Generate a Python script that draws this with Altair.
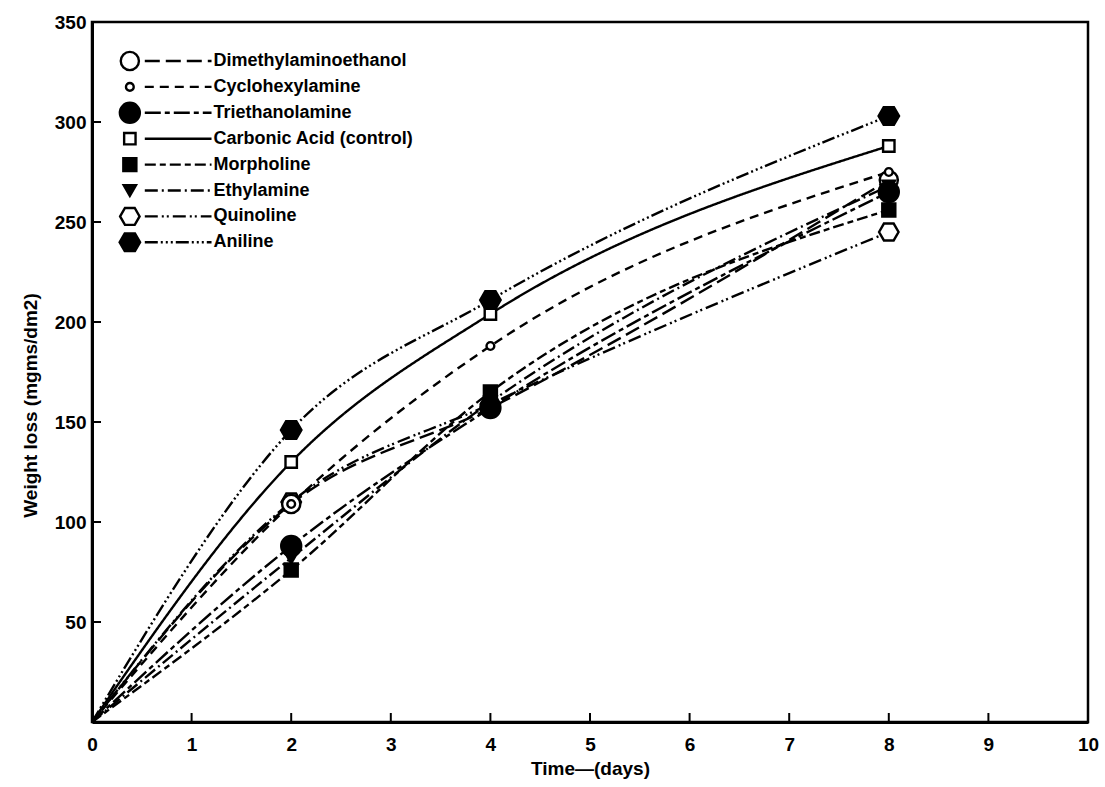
import altair as alt
import pandas as pd

# Sampling days and weight loss (mgms/dm2) per inhibitor
days = [0, 2, 4, 8]
series_names = [
    "Dimethylaminoethanol",
    "Cyclohexylamine",
    "Triethanolamine",
    "Carbonic Acid (control)",
    "Morpholine",
    "Ethylamine",
    "Quinoline",
    "Aniline",
]
dimethylaminoethanol = [0, 109, 157, 271]
cyclohexylamine = [0, 109, 188, 275]
triethanolamine = [0, 88, 157, 265]
carbonic_acid = [0, 130, 204, 288]
morpholine = [0, 76, 165, 256]
ethylamine = [0, 82, 160, 268]
quinoline = [0, 110, 159, 245]
aniline = [0, 146, 211, 303]

x_ticks = [0, 1, 2, 3, 4, 5, 6, 7, 8, 9, 10]
y_ticks = [50, 100, 150, 200, 250, 300, 350]

HEX = "M-1,0L-0.5,-0.866L0.5,-0.866L1,0L0.5,0.866L-0.5,0.866Z"
shapes = ["circle", "circle", "circle", "square", "square", "triangle-down", HEX, HEX]
fills = ["white", "white", "black", "white", "black", "black", "white", "black"]
sizes = [330, 60, 400, 130, 170, 150, 380, 420]
dashes = [[15, 6], [9, 6], [16, 4, 5, 4], [1, 0], [11, 4, 6, 4], [13, 4, 2, 4],
          [13, 4, 2, 3, 2, 4], [13, 3, 2, 3, 2, 3, 2, 3]]

values = [dimethylaminoethanol, cyclohexylamine, triethanolamine, carbonic_acid,
          morpholine, ethylamine, quinoline, aniline]
rows = []
for name, vals, fill, size in zip(series_names, values, fills, sizes):
    # open markers: larger ones first; solid markers on top of everything
    z = 10000 if fill == "black" else -size
    for d, v in zip(days, vals):
        rows.append({"name": name, "day": d, "loss": v, "z": z})
df = pd.DataFrame(rows)
legend_df = pd.DataFrame({"name": series_names, "row": list(range(len(series_names)))})

FONT = "Liberation Sans"
X = alt.Scale(domain=[0, 10], nice=False)
Y = alt.Scale(domain=[0, 350], nice=False)

dash_enc = alt.StrokeDash("name:N", scale=alt.Scale(type="ordinal", domain=series_names, range=dashes), legend=None)
shape_enc = alt.Shape("name:N", scale=alt.Scale(type="ordinal", domain=series_names, range=shapes), legend=None)
fill_enc = alt.Fill("name:N", scale=alt.Scale(type="ordinal", domain=series_names, range=fills), legend=None)
size_enc = alt.Size("name:N", scale=alt.Scale(type="ordinal", domain=series_names, range=sizes), legend=None)

base = alt.Chart(df)

lines = base.mark_line(color="black", strokeWidth=2.4, interpolate="monotone").encode(
    x=alt.X("day:Q", scale=X, title="Time—(days)",
            axis=alt.Axis(values=x_ticks, format="d", ticks=False, labelFlush=False,
                          labelOverlap=False, labelPadding=13, titlePadding=5)),
    y=alt.Y("loss:Q", scale=Y, title="Weight loss (mgms/dm2)",
            axis=alt.Axis(values=y_ticks, ticks=False, labelFlush=False,
                          labelOverlap=False, labelPadding=6, titlePadding=14, titleY=383)),
    strokeDash=dash_enc,
    detail="name:N",
)

points = base.transform_filter("datum.day > 0").mark_point(
    filled=True, stroke="black", strokeWidth=2.4, opacity=1
).encode(
    x=alt.X("day:Q", scale=X),
    y=alt.Y("loss:Q", scale=Y),
    shape=shape_enc, fill=fill_enc, size=size_enc,
    order=alt.Order("z:Q"),
)

# Key in the upper-left corner, laid out in axis units
leg = alt.Chart(legend_df).transform_calculate(
    ly="330.5 - 12.95 * datum.row", mx="0.38", lx1="0.53", lx2="1.2", tx="1.22"
)
leg_lines = leg.mark_rule(color="black", strokeWidth=2.4).encode(
    x=alt.X("lx1:Q", scale=X), x2="lx2:Q", y=alt.Y("ly:Q", scale=Y), strokeDash=dash_enc
)
leg_points = leg.mark_point(filled=True, stroke="black", strokeWidth=2.4, opacity=1).encode(
    x=alt.X("mx:Q", scale=X), y=alt.Y("ly:Q", scale=Y),
    shape=shape_enc, fill=fill_enc, size=size_enc,
)
leg_text = leg.mark_text(align="left", baseline="middle", font=FONT, fontSize=18,
                         fontWeight="bold", color="black").encode(
    x=alt.X("tx:Q", scale=X), y=alt.Y("ly:Q", scale=Y), text="name:N"
)

# Inward tick marks on both axes
xt = alt.Chart(pd.DataFrame({"t": x_ticks[1:-1]})).mark_rule(color="black", strokeWidth=2).encode(
    x=alt.X("t:Q", scale=X), y=alt.value(700), y2=alt.value(691)
)
yt = alt.Chart(pd.DataFrame({"t": y_ticks[:-1]})).mark_rule(color="black", strokeWidth=2).encode(
    y=alt.Y("t:Q", scale=Y), x=alt.value(0), x2=alt.value(9)
)

chart = alt.layer(lines, points, leg_lines, leg_points, leg_text, xt, yt).properties(
    width=996, height=700,
    padding={"left": 92, "top": 22, "right": 17, "bottom": 65},
    autosize="none",
    background="white",
).configure_view(
    stroke="black", strokeWidth=2.5
).configure_axis(
    domainColor="black", domainWidth=3, grid=False,
    labelFont=FONT, labelFontSize=19, labelFontWeight="bold", labelColor="black",
    titleFont=FONT, titleFontSize=19, titleFontWeight="bold", titleColor="black",
)

chart.save("out.html", embed_options={"renderer": "svg", "actions": False})
